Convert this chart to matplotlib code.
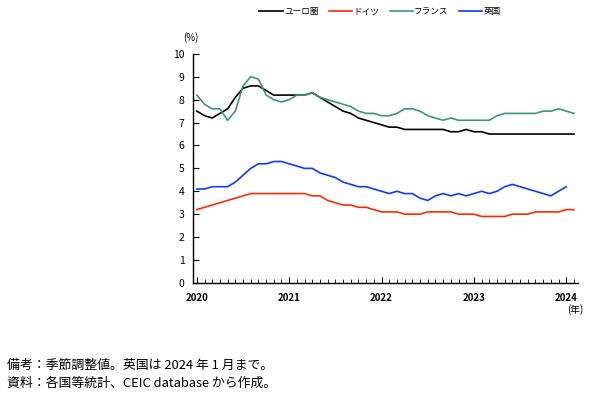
import matplotlib
matplotlib.use("Agg")
from matplotlib import pyplot as plt
from matplotlib.ticker import MultipleLocator

plt.rcParams['font.family'] = ['Noto Sans CJK JP', 'DejaVu Sans']

# monthly, Jan 2020 = 0
euro = [7.5, 7.3, 7.2, 7.4, 7.6, 8.1, 8.5, 8.6, 8.6, 8.4, 8.2, 8.2, 8.2, 8.2, 8.2, 8.3,
        8.1, 7.9, 7.7, 7.5, 7.4, 7.2, 7.1, 7.0, 6.9, 6.8, 6.8, 6.7, 6.7, 6.7, 6.7, 6.7,
        6.7, 6.6, 6.6, 6.7, 6.6, 6.6, 6.5, 6.5, 6.5, 6.5, 6.5, 6.5, 6.5, 6.5, 6.5, 6.5,
        6.5, 6.5]
germany = [3.2, 3.3, 3.4, 3.5, 3.6, 3.7, 3.8, 3.9, 3.9, 3.9, 3.9, 3.9, 3.9, 3.9, 3.9, 3.8,
           3.8, 3.6, 3.5, 3.4, 3.4, 3.3, 3.3, 3.2, 3.1, 3.1, 3.1, 3.0, 3.0, 3.0, 3.1, 3.1,
           3.1, 3.1, 3.0, 3.0, 3.0, 2.9, 2.9, 2.9, 2.9, 3.0, 3.0, 3.0, 3.1, 3.1, 3.1, 3.1,
           3.2, 3.2]
france = [8.2, 7.8, 7.6, 7.6, 7.1, 7.5, 8.6, 9.0, 8.9, 8.2, 8.0, 7.9, 8.0, 8.2, 8.2, 8.3,
          8.1, 8.0, 7.9, 7.8, 7.7, 7.5, 7.4, 7.4, 7.3, 7.3, 7.4, 7.6, 7.6, 7.5, 7.3, 7.2,
          7.1, 7.2, 7.1, 7.1, 7.1, 7.1, 7.1, 7.3, 7.4, 7.4, 7.4, 7.4, 7.4, 7.5, 7.5, 7.6,
          7.5, 7.4]
uk = [4.1, 4.1, 4.2, 4.2, 4.2, 4.4, 4.7, 5.0, 5.2, 5.2, 5.3, 5.3, 5.2, 5.1, 5.0, 5.0,
      4.8, 4.7, 4.6, 4.4, 4.3, 4.2, 4.2, 4.1, 4.0, 3.9, 4.0, 3.9, 3.9, 3.7, 3.6, 3.8,
      3.9, 3.8, 3.9, 3.8, 3.9, 4.0, 3.9, 4.0, 4.2, 4.3, 4.2, 4.1, 4.0, 3.9, 3.8, 4.0,
      4.2]
years = ["2020", "2021", "2022", "2023", "2024"]

fig = plt.figure(figsize=(5.92, 3.99), dpi=100)
ax = fig.add_axes([0.326, 0.291, 0.650, 0.574])

ax.plot(range(len(euro)), euro, color="black", lw=1.2, label="ユーロ圏")
ax.plot(range(len(germany)), germany, color="#ff2a00", lw=1.2, label="ドイツ")
ax.plot(range(len(france)), france, color="#3a9a68", lw=1.2, label="フランス")
ax.plot(range(len(uk)), uk, color="#0a3cff", lw=1.2, label="英国")

ax.set_xlim(-0.5, 49.5)
ax.set_ylim(0, 10)
ax.set_xticks([12 * i for i in range(len(years))])
ax.set_xticklabels(years, fontweight="bold")
ax.xaxis.set_minor_locator(MultipleLocator(1))
ax.yaxis.set_major_locator(MultipleLocator(1))
ax.tick_params(axis="both", which="major", direction="in", length=4, width=0.8)
ax.tick_params(axis="x", which="minor", direction="in", length=3, width=0.6)
ax.tick_params(axis="x", labelsize=7, pad=7)
ax.tick_params(axis="y", labelsize=7.5, pad=6)
for s in ["top", "right"]:
    ax.spines[s].set_visible(False)
for s in ["left", "bottom"]:
    ax.spines[s].set_linewidth(1.0)

fig.text(0.322, 0.905, "(%)", fontsize=7, ha="center", va="center")
fig.text(0.972, 0.223, "(年)", fontsize=7, ha="center", va="center")

ax.legend(loc="center", bbox_to_anchor=(0.642, 0.97), bbox_transform=fig.transFigure,
          ncol=4, frameon=False, fontsize=6.2, handlelength=2.7, columnspacing=1.2,
          handletextpad=0.15)

fig.text(0.012, 0.083, "備考：季節調整値。英国は 2024 年 1 月まで。", fontsize=9.3, va="center")
fig.text(0.012, 0.040, "資料：各国等統計、CEIC database から作成。", fontsize=9.3, va="center")

fig.savefig("out.png", dpi=100)
